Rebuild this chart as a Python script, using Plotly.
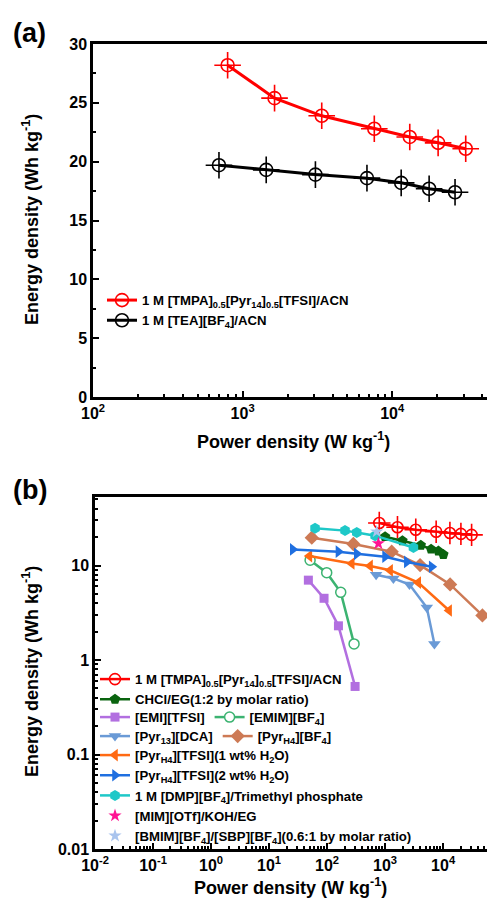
import plotly.graph_objects as go

# ---------------- Panel (a) data ----------------
a_tmpa_power = [794, 1635, 3380, 7590, 13100, 20270, 31000]
a_tmpa_energy = [28.2, 25.4, 23.9, 22.8, 22.1, 21.6, 21.1]
a_tea_power = [695, 1438, 3067, 6780, 11480, 17650, 26300]
a_tea_energy = [19.7, 19.3, 18.9, 18.6, 18.2, 17.7, 17.4]
a_x_tickvals = [100, 1000, 10000]
a_x_ticktext = ["10<sup>2</sup>", "10<sup>3</sup>", "10<sup>4</sup>"]

# ---------------- Panel (b) data ----------------
b_tmpa_power = [794, 1635, 3380, 7590, 13100, 20270, 31000]
b_tmpa_energy = [28.2, 25.4, 23.9, 22.8, 22.1, 21.6, 21.1]
chcl_power = [1000, 1990, 4120, 6210, 8300, 10100]
chcl_energy = [20.2, 18.3, 16.4, 14.9, 14.2, 13.1]
emi_tfsi_power = [47.6, 88.7, 157, 304]
emi_tfsi_energy = [7.0, 4.5, 2.3, 0.525]
emim_bf4_power = [51, 98.6, 172, 292]
emim_bf4_energy = [11.4, 8.4, 5.2, 1.48]
pyr13_dca_power = [700, 1390, 2630, 5230, 7080]
pyr13_dca_energy = [8.0, 7.3, 6.3, 3.6, 1.48]
pyrh4_bf4_power = [54.5, 284, 1300, 4010, 13200, 47600]
pyrh4_bf4_energy = [19.7, 16.9, 14.0, 10.1, 6.3, 2.96]
pyrh4_tfsi1_power = [49.5, 266, 551, 1220, 3730, 12700]
pyrh4_tfsi1_energy = [12.6, 10.5, 9.9, 8.9, 6.6, 3.34]
pyrh4_tfsi2_power = [25.6, 157, 325, 1000, 2370, 6350]
pyrh4_tfsi2_energy = [14.8, 14.0, 13.3, 12.4, 10.9, 9.7]
dmp_power = [62, 204, 325, 673, 3080]
dmp_energy = [24.8, 23.4, 22.4, 20.7, 15.5]
mim_power = [767]
mim_energy = [17.1]
bmim_power = [717]
bmim_energy = [22.8]
b_x_tickvals = [0.01, 0.1, 1, 10, 100, 1000, 10000]
b_x_ticktext = ["10<sup>-2</sup>", "10<sup>-1</sup>", "10<sup>0</sup>", "10<sup>1</sup>",
                "10<sup>2</sup>", "10<sup>3</sup>", "10<sup>4</sup>"]
b_y_tickvals = [0.01, 0.1, 1, 10]
b_y_ticktext = ["0.01", "0.1", "1", "10"]

OFF = 8
W, H = 495 - OFF, 901 - OFF
def px(x):
    return (x - OFF) / W
def py(y):
    return 1 - (y - OFF) / H

FONT = "Liberation Sans, Arial, sans-serif"

fig = go.Figure()

def add_cross_series(xs, ys, color, name, xa, ya, legend, msize, csize, lw):
    fig.add_trace(go.Scatter(
        x=xs, y=ys, mode="lines+markers", name=name,
        line=dict(color=color, width=lw),
        marker=dict(symbol="circle-open", size=msize, color=color, line=dict(width=1.6, color=color)),
        xaxis=xa, yaxis=ya, legend=legend))
    fig.add_trace(go.Scatter(
        x=xs, y=ys, mode="markers", showlegend=False, hoverinfo="skip",
        marker=dict(symbol="cross-thin-open", size=csize, color=color, line=dict(width=1.6, color=color)),
        xaxis=xa, yaxis=ya))

add_cross_series(a_tmpa_power, a_tmpa_energy, "#ff0000",
                 "1 M [TMPA]<sub>0.5</sub>[Pyr<sub>14</sub>]<sub>0.5</sub>[TFSI]/ACN",
                 "x", "y", "legend", 13, 19, 3)
add_cross_series(a_tea_power, a_tea_energy, "#000000",
                 "1 M [TEA][BF<sub>4</sub>]/ACN",
                 "x", "y", "legend", 13, 19, 3)

add_cross_series(b_tmpa_power, b_tmpa_energy, "#ff0000",
                 "1 M [TMPA]<sub>0.5</sub>[Pyr<sub>14</sub>]<sub>0.5</sub>[TFSI]/ACN",
                 "x2", "y2", "legend2", 11, 16, 2.5)

def add_series(xs, ys, color, name, symbol, legend, size=9, fill=None, mode="lines+markers"):
    fig.add_trace(go.Scatter(
        x=xs, y=ys, mode=mode, name=name,
        line=dict(color=color, width=2.5),
        marker=dict(symbol=symbol, size=size, color=fill if fill else color,
                    line=dict(width=1.5 if fill else 0, color=color)),
        xaxis="x2", yaxis="y2", legend=legend))

add_series(chcl_power, chcl_energy, "#0a640f", "CHCl/EG(1:2 by molar ratio)", "pentagon", "legend2", 11)
add_series(emi_tfsi_power, emi_tfsi_energy, "#b26fe0", "[EMI][TFSI]", "square", "legend3", 9)
add_series(emim_bf4_power, emim_bf4_energy, "#3cb371", "[EMIM][BF<sub>4</sub>]", "circle", "legend3", 10, fill="#ffffff")
add_series(pyr13_dca_power, pyr13_dca_energy, "#6a9ad6", "[Pyr<sub>13</sub>][DCA]", "triangle-down", "legend4", 11)
add_series(pyrh4_bf4_power, pyrh4_bf4_energy, "#cd7a55", "[Pyr<sub>H4</sub>][BF<sub>4</sub>]", "diamond", "legend4", 11)
add_series(pyrh4_tfsi1_power, pyrh4_tfsi1_energy, "#ff6a13", "[Pyr<sub>H4</sub>][TFSI](1 wt% H<sub>2</sub>O)", "triangle-left", "legend5", 11)
add_series(pyrh4_tfsi2_power, pyrh4_tfsi2_energy, "#1f6fe0", "[Pyr<sub>H4</sub>][TFSI](2 wt% H<sub>2</sub>O)", "triangle-right", "legend5", 11)
add_series(dmp_power, dmp_energy, "#1ec8c8", "1 M [DMP][BF<sub>4</sub>]/Trimethyl phosphate", "hexagon", "legend5", 11)
add_series(mim_power, mim_energy, "#ff1493", "[MIM][OTf]/KOH/EG", "star", "legend5", 10, mode="markers")
add_series(bmim_power, bmim_energy, "#a9c4ee", "[BMIM][BF<sub>4</sub>]/[SBP][BF<sub>4</sub>](0.6:1 by molar ratio)", "star", "legend5", 10, mode="markers")

tickfont = dict(family=FONT, size=16, color="black", weight="bold")
legfont = dict(family=FONT, size=13.2, color="black", weight="bold")

axis_common = dict(showline=True, linecolor="black", linewidth=2.5, mirror=True,
                   ticks="inside", tickwidth=2, ticklen=6, tickcolor="black",
                   showgrid=False, zeroline=False, tickfont=tickfont, automargin=False)
minor_common = dict(ticks="inside", ticklen=3, tickwidth=1.5, tickcolor="black")

fig.update_layout(
    template="none",
    width=W, height=H,
    margin=dict(l=0, r=0, t=0, b=0, pad=0, autoexpand=False),
    paper_bgcolor="white", plot_bgcolor="white",
    font=dict(family=FONT, color="black"),
    xaxis=dict(type="log", range=[2, 4.667], domain=[px(93), px(492)], anchor="y",
               tickvals=a_x_tickvals, ticktext=a_x_ticktext,
               minor=dict(dtick="D1", **minor_common), **axis_common),
    yaxis=dict(range=[0, 30], domain=[py(397), py(44)], anchor="x", dtick=5,
               minor=dict(dtick=2.5, **minor_common), **axis_common),
    xaxis2=dict(type="log", range=[-2, 4.86], domain=[px(95), px(493)], anchor="y2",
                tickvals=b_x_tickvals, ticktext=b_x_ticktext,
                minor=dict(dtick="D1", **minor_common), **axis_common),
    yaxis2=dict(type="log", range=[-2, 1.725], domain=[py(849), py(497)], anchor="x2",
                tickvals=b_y_tickvals, ticktext=b_y_ticktext,
                minor=dict(dtick="D1", **minor_common), **axis_common),
    legend=dict(x=px(102), y=py(285), xanchor="left", yanchor="top", bgcolor="rgba(0,0,0,0)",
                font=legfont, tracegroupgap=0, itemwidth=30),
    legend2=dict(x=px(95), y=py(664), xanchor="left", yanchor="top", bgcolor="rgba(0,0,0,0)",
                 font=legfont, tracegroupgap=0, itemwidth=30),
    legend3=dict(x=px(95), y=py(702), xanchor="left", yanchor="top", bgcolor="rgba(0,0,0,0)",
                 font=legfont, orientation="h", itemwidth=30),
    legend4=dict(x=px(95), y=py(721), xanchor="left", yanchor="top", bgcolor="rgba(0,0,0,0)",
                 font=legfont, orientation="h", itemwidth=30),
    legend5=dict(x=px(95), y=py(740), xanchor="left", yanchor="top", bgcolor="rgba(0,0,0,0)",
                 font=legfont, tracegroupgap=0, itemwidth=30),
    showlegend=True,
)

title_font = dict(family=FONT, size=18, color="black", weight="bold")
annotations = [
    dict(text="(a)", x=px(11), y=py(33), xanchor="left", yanchor="middle",
         font=dict(family=FONT, size=27, color="black", weight="bold")),
    dict(text="(b)", x=px(11), y=py(490), xanchor="left", yanchor="middle",
         font=dict(family=FONT, size=27, color="black", weight="bold")),
    dict(text="Energy density (Wh kg<sup>-1</sup>)", x=px(30), y=py(220), textangle=-90,
         xanchor="center", yanchor="middle", font=title_font),
    dict(text="Power density (W kg<sup>-1</sup>)", x=px(293), y=py(440),
         xanchor="center", yanchor="middle", font=title_font),
    dict(text="Energy density (Wh kg<sup>-1</sup>)", x=px(30), y=py(672), textangle=-90,
         xanchor="center", yanchor="middle", font=title_font),
    dict(text="Power density (W kg<sup>-1</sup>)", x=px(290), y=py(886),
         xanchor="center", yanchor="middle", font=title_font),
]
for a in annotations:
    a.update(xref="paper", yref="paper", showarrow=False)
fig.update_layout(annotations=annotations)

fig.write_html("out.html")
